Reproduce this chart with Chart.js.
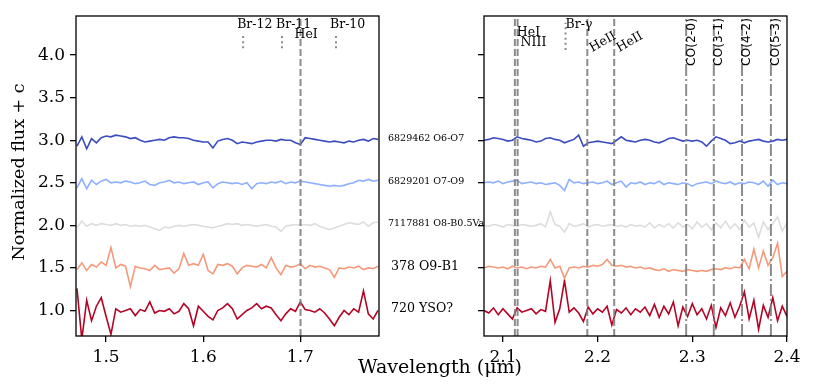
<!DOCTYPE html>
<html>
<head>
<meta charset="utf-8">
<script src="https://cdn.jsdelivr.net/npm/chart.js@4.4.1/dist/chart.umd.min.js"></script>
<style>
  html, body { margin: 0; background: #fff; }
  #wrap { position: relative; width: 813px; height: 391px; }
  #wrap canvas { position: absolute; left: 0; top: 0; }
</style>
</head>
<body>
<div id="wrap">
  <canvas id="hband" width="813" height="391"></canvas>
  <canvas id="kband" width="813" height="391"></canvas>
</div>
<script>
// sources, top to bottom
const SOURCES = ['6829462 O6-O7', '6829201 O7-O9', '7117881 O8-B0.5Va', '378 O9-B1', '720 YSO?'];
const OFFSETS = [2.0, 1.5, 1.0, 0.5, 0.0];
const COLORS = ['#3b4cc0', '#8db0fe', '#dddddd', '#f49a7b', '#b40426'];

const Y_TICKS = [1.0, 1.5, 2.0, 2.5, 3.0, 3.5, 4.0];
const X_TICKS_H = [1.5, 1.6, 1.7];
const X_TICKS_K = [2.1, 2.2, 2.3, 2.4];

// H band wavelength grid (um)
const WL_H = [
  1.470, 1.475, 1.480, 1.485, 1.490, 1.495, 1.500, 1.505, 1.510, 1.515,
  1.520, 1.525, 1.530, 1.535, 1.540, 1.545, 1.550, 1.555, 1.560, 1.565,
  1.570, 1.575, 1.580, 1.585, 1.590, 1.595, 1.600, 1.605, 1.610, 1.615,
  1.620, 1.625, 1.630, 1.635, 1.640, 1.645, 1.650, 1.655, 1.660, 1.665,
  1.670, 1.675, 1.680, 1.685, 1.690, 1.695, 1.700, 1.705, 1.710, 1.715,
  1.720, 1.725, 1.730, 1.735, 1.740, 1.745, 1.750, 1.755, 1.760, 1.765,
  1.770, 1.775, 1.780];

// K band wavelength grid (um)
const WL_K = [
  2.080, 2.085, 2.090, 2.095, 2.100, 2.105, 2.110, 2.115, 2.120, 2.125,
  2.130, 2.135, 2.140, 2.145, 2.150, 2.155, 2.160, 2.165, 2.170, 2.175,
  2.180, 2.185, 2.190, 2.195, 2.200, 2.205, 2.210, 2.215, 2.220, 2.225,
  2.230, 2.235, 2.240, 2.245, 2.250, 2.255, 2.260, 2.265, 2.270, 2.275,
  2.280, 2.285, 2.290, 2.295, 2.300, 2.305, 2.310, 2.315, 2.320, 2.325,
  2.330, 2.335, 2.340, 2.345, 2.350, 2.355, 2.360, 2.365, 2.370, 2.375,
  2.380, 2.385, 2.390, 2.395, 2.400];

// normalized flux, H band
const H_6829462 = [
  0.93, 1.04, 0.90, 1.02, 0.97, 1.03, 1.05, 1.04, 1.06, 1.05,
  1.04, 1.02, 1.03, 1.00, 0.98, 0.99, 1.00, 1.01, 1.00, 1.03,
  1.04, 1.03, 1.03, 1.02, 1.00, 0.99, 0.98, 0.98, 0.91, 0.99,
  1.01, 1.02, 1.00, 0.96, 0.98, 0.97, 0.96, 0.98, 0.99, 1.00,
  1.00, 0.99, 1.01, 1.00, 1.00, 0.97, 0.95, 1.03, 1.02, 1.01,
  1.00, 0.99, 0.98, 0.99, 0.98, 0.97, 0.99, 0.98, 1.00, 1.01,
  0.99, 1.02, 1.01];
const H_6829201 = [
  0.94, 1.05, 0.93, 1.03, 0.98, 1.02, 1.04, 1.00, 1.01, 1.00,
  1.02, 1.01, 0.99, 1.00, 1.02, 0.98, 0.97, 1.00, 1.01, 1.03,
  1.00, 1.01, 0.99, 1.00, 1.01, 0.98, 1.00, 1.01, 0.94, 0.99,
  1.01, 1.00, 0.99, 1.00, 0.98, 1.00, 0.93, 0.99, 1.00, 0.99,
  1.01, 1.00, 1.02, 0.99, 1.01, 1.00, 1.02, 1.01, 1.00, 0.99,
  0.98, 0.97, 0.96, 0.97, 0.96, 0.97, 0.99, 1.00, 1.03, 1.02,
  1.04, 1.02, 1.03];
const H_7117881 = [
  0.97, 1.05, 0.99, 1.02, 1.00, 1.02, 1.01, 1.00, 1.02, 1.00,
  1.01, 0.99, 1.00, 0.99, 1.00, 0.98, 0.96, 0.94, 0.98, 0.97,
  0.99, 1.00, 0.99, 1.00, 1.01, 1.00, 0.99, 0.98, 0.97, 0.99,
  1.00, 1.02, 1.01, 1.02, 1.00, 1.01, 1.00, 0.99, 1.00, 1.01,
  0.99, 0.98, 0.93, 0.99, 1.00, 1.01, 1.00, 1.01, 1.00, 1.02,
  0.99, 0.97, 0.95, 0.97, 0.99, 1.01, 1.03, 1.02, 1.01, 1.04,
  0.99, 1.03, 1.04];
const H_378 = [
  0.98, 1.06, 0.97, 1.04, 1.01, 1.07, 1.03, 1.24, 1.00, 1.04,
  1.02, 0.78, 1.02, 1.00, 0.99, 0.97, 1.03, 0.98, 0.99, 1.00,
  0.94, 0.99, 1.17, 1.03, 1.05, 1.03, 1.16, 0.97, 0.93, 1.04,
  1.03, 1.05, 1.02, 0.93, 1.00, 1.03, 1.02, 1.01, 1.04, 1.00,
  1.12, 1.00, 0.92, 1.03, 1.01, 1.02, 1.05, 0.99, 1.03, 1.01,
  1.02, 1.00, 0.98, 0.89, 1.00, 0.99, 1.01, 1.00, 1.02, 0.98,
  1.00, 0.99, 1.02];
const H_720 = [
  1.26, 0.66, 1.12, 0.88, 1.05, 1.15, 0.93, 0.72, 1.02, 0.98,
  1.00, 1.02, 0.94, 1.01, 0.99, 1.10, 0.97, 1.00, 0.99, 1.02,
  0.96, 0.99, 1.08, 1.02, 0.82, 1.05, 0.99, 0.93, 0.89, 1.00,
  1.03, 1.08, 1.02, 0.90, 0.95, 1.00, 1.03, 1.08, 1.02, 1.05,
  1.03, 0.95, 0.88, 0.96, 1.02, 0.99, 1.10, 1.01, 1.00, 0.98,
  1.02, 0.97, 0.90, 0.82, 0.92, 1.00, 0.95, 1.02, 0.98, 1.23,
  0.96, 0.90, 1.00];

// normalized flux, K band
const K_6829462 = [
  1.00, 1.01, 1.03, 1.02, 1.01, 0.99, 1.00, 1.04, 1.02, 1.01,
  1.00, 0.98, 0.99, 1.02, 1.03, 1.01, 1.00, 0.97, 0.99, 1.01,
  1.06, 0.93, 0.97, 0.98, 0.99, 0.98, 0.97, 0.96, 1.00, 1.04,
  1.00, 0.99, 0.98, 1.00, 1.01, 1.00, 0.98, 0.97, 0.99, 1.02,
  1.03, 1.01, 0.99, 1.00, 0.99, 1.00, 0.98, 0.93, 0.99, 1.04,
  1.02, 1.00, 0.96, 0.97, 0.99, 0.97, 0.99, 1.00, 1.01, 0.99,
  0.98, 0.99, 1.01, 1.00, 1.01];
const K_6829201 = [
  1.00, 1.01, 1.00, 1.02, 0.99, 1.01, 1.02, 1.03, 0.99, 1.00,
  1.01, 0.99, 1.00, 0.98, 0.99, 1.00, 0.97, 0.91, 1.04, 1.00,
  1.01, 0.99, 1.00, 1.01, 0.99, 1.00, 1.02, 0.98, 1.00, 1.02,
  0.95, 1.00, 0.99, 1.01, 0.98, 1.00, 0.99, 1.02, 0.98, 1.00,
  0.99, 0.98, 1.00, 0.99, 0.96, 0.99, 1.00, 1.01, 0.99, 1.02,
  1.00, 0.99, 1.01, 0.98, 1.00, 0.99, 1.01, 1.00, 0.98, 1.02,
  0.96, 1.03, 0.98, 1.00, 0.99];
const K_7117881 = [
  1.00, 0.99, 1.01, 1.00, 0.98, 1.01, 1.00, 0.99, 1.01, 1.00,
  0.99, 1.00, 1.02, 0.98, 1.16, 1.01, 0.99, 0.92, 1.02, 0.99,
  1.00, 1.02, 0.98, 1.00, 1.01, 0.99, 1.00, 1.01, 0.99, 1.00,
  0.98, 1.01, 0.99, 1.00, 0.98, 1.03, 0.97, 1.01, 0.98, 1.02,
  0.97, 1.03, 0.98, 1.01, 0.96, 1.04, 0.98, 1.02, 0.95, 1.03,
  0.97, 1.05, 0.96, 1.02, 0.95, 1.06, 0.98, 1.03, 0.86, 1.04,
  0.95, 1.02, 1.10, 0.93, 1.03];
const K_378 = [
  1.00, 1.02, 1.01, 1.00, 1.01, 0.99, 1.02, 1.00, 1.01, 0.99,
  1.01, 1.00, 1.02, 1.01, 1.10, 1.00, 1.02, 0.88, 1.00, 1.01,
  1.00, 1.02, 1.01, 1.03, 1.02, 1.04, 1.10, 1.03, 1.02, 1.03,
  1.01, 1.02, 1.00, 1.01, 0.99, 1.00, 0.98, 0.97, 0.99, 0.96,
  0.98, 0.97, 0.96, 0.98, 0.97, 0.96, 0.97, 0.96, 0.98, 0.99,
  0.98, 1.00, 0.99, 1.01, 1.00, 1.10, 0.99, 1.22, 1.00, 1.20,
  1.03, 1.12, 1.29, 0.90, 0.96];
const K_720 = [
  1.00, 0.97, 1.03, 0.95, 1.02, 0.96, 0.90, 1.03, 0.98, 1.00,
  1.02, 0.96, 1.01, 0.99, 1.35, 0.86, 1.02, 1.35, 0.98, 1.03,
  0.97, 0.87, 1.04, 0.96, 1.02, 0.98, 1.05, 0.83, 1.01, 0.97,
  1.03, 0.95, 1.02, 0.98, 1.04, 0.94, 1.07, 0.92, 1.05, 0.96,
  1.10, 0.82, 1.04, 0.93, 1.08, 0.95, 1.02, 0.90, 1.06, 0.80,
  1.03, 0.94, 1.09, 0.92, 1.05, 1.22, 0.90, 1.12, 0.78, 1.06,
  0.92, 1.15, 0.88, 1.05, 0.93];

const H_FLUX = [H_6829462, H_6829201, H_7117881, H_378, H_720];
const K_FLUX = [K_6829462, K_6829201, K_7117881, K_378, K_720];

// line identifications (um)
const H_BR = [1.6411, 1.6811, 1.7367];
const H_BR_NAMES = ['Br-12', 'Br-11', 'Br-10'];
const H_HEI = 1.7002;
const K_HEI = 2.1126;
const K_NIII = 2.1155;
const K_BRG = 2.1661;
const K_HEII = [2.1891, 2.2175];
const K_CO = [2.2935, 2.3227, 2.3525, 2.3830];
const K_CO_NAMES = ['CO(2-0)', 'CO(3-1)', 'CO(4-2)', 'CO(5-3)'];

const Y_MIN = 0.70, Y_MAX = 4.46;
const SERIF = "'DejaVu Serif', serif";
const SANS = "'DejaVu Sans', sans-serif";
const MARK = 'rgba(128,128,128,0.9)';
const DASH = [7, 3], DOT = [2, 3.2], DASHDOT = [12, 3, 2, 3];

function spectrum(wl, flux, k) {
  return {
    data: wl.map((w, i) => ({ x: w, y: flux[i] + OFFSETS[k] })),
    borderColor: COLORS[k], borderWidth: 1.6, pointRadius: 0, order: 1,
  };
}
function vline(x, y0, y1, dash) {
  return {
    data: [{ x, y: y0 }, { x, y: y1 }],
    borderColor: MARK, borderWidth: 2, borderDash: dash, pointRadius: 0, order: 0,
  };
}

function scaleOpts(xmin, xmax, xticks, yWidth, yLabels) {
  const tickGrid = { drawOnChartArea: false, drawTicks: true, tickLength: 6, color: '#000', lineWidth: 1.3 };
  return {
    x: {
      type: 'linear', min: xmin, max: xmax,
      afterBuildTicks: s => { s.ticks = xticks.map(v => ({ value: v })); },
      afterFit: s => { s.height = 55; },
      ticks: { color: '#000', font: { family: SERIF, size: 17 }, padding: 5, maxRotation: 0, callback: v => v.toFixed(1) },
      grid: tickGrid, border: { display: false },
    },
    y: {
      type: 'linear', min: Y_MIN, max: Y_MAX,
      afterBuildTicks: s => { s.ticks = Y_TICKS.map(v => ({ value: v })); },
      afterFit: s => { s.width = yWidth; },
      ticks: { display: yLabels, color: '#000', font: { family: SERIF, size: 17 }, padding: 5, callback: v => v.toFixed(1) },
      grid: tickGrid, border: { display: false },
    },
  };
}

const frame = {
  id: 'frame',
  afterDraw(chart) {
    const { ctx, chartArea: a } = chart;
    ctx.save();
    ctx.strokeStyle = '#000';
    ctx.lineWidth = 1.3;
    ctx.strokeRect(a.left, a.top, a.right - a.left, a.bottom - a.top);
    ctx.restore();
  },
};

const hText = {
  id: 'hText',
  afterDraw(chart) {
    const { ctx, chartArea: a, scales: { x } } = chart;
    ctx.save();
    ctx.fillStyle = '#000';
    ctx.font = '12.5px ' + SERIF;
    ctx.textAlign = 'left';
    ctx.textBaseline = 'middle';
    H_BR_NAMES.forEach((n, i) => ctx.fillText(n, x.getPixelForValue(H_BR[i]) - 6, a.top + 9));
    ctx.fillText('HeI', x.getPixelForValue(H_HEI) - 6, a.top + 19);
    ctx.font = '19px ' + SERIF;
    ctx.textAlign = 'center';
    ctx.fillText('Wavelength (μm)', 440, 368);
    ctx.font = '17.5px ' + SERIF;
    ctx.translate(19, 172);
    ctx.rotate(-Math.PI / 2);
    ctx.fillText('Normalized flux + c', 0, 0);
    ctx.restore();
  },
};

const kText = {
  id: 'kText',
  afterDraw(chart) {
    const { ctx, chartArea: a, scales: { x, y } } = chart;
    ctx.save();
    ctx.fillStyle = '#000';
    ctx.textAlign = 'left';
    ctx.textBaseline = 'middle';
    // source names next to the panel
    SOURCES.forEach((s, k) => {
      const big = k >= 3;
      ctx.font = (big ? '12.6px ' : '9.5px ') + SERIF;
      ctx.fillText(s, big ? 391 : 388, y.getPixelForValue(OFFSETS[k] + 1) - 1.5);
    });
    ctx.font = '12.5px ' + SERIF;
    ctx.fillText('HeI', x.getPixelForValue(K_HEI) + 2, a.top + 17);
    ctx.fillText('NIII', x.getPixelForValue(K_NIII) + 3, a.top + 27);
    ctx.fillText('Br-γ', x.getPixelForValue(K_BRG), a.top + 9);
    ctx.textBaseline = 'alphabetic';
    K_HEII.forEach(w => {
      ctx.save();
      ctx.translate(x.getPixelForValue(w) + 5, a.top + 36);
      ctx.rotate(-Math.PI / 6);
      ctx.fillText('HeII', 0, 0);
      ctx.restore();
    });
    ctx.font = '12.3px ' + SANS;
    ctx.textBaseline = 'top';
    K_CO.forEach((w, i) => {
      ctx.save();
      ctx.translate(x.getPixelForValue(w) - 1, a.top + 50);
      ctx.rotate(-Math.PI / 2);
      ctx.fillText(K_CO_NAMES[i], 0, 0);
      ctx.restore();
    });
    ctx.restore();
  },
};

const baseOpts = {
  responsive: false, animation: false, devicePixelRatio: 1, events: [],
  plugins: { legend: { display: false }, tooltip: { enabled: false } },
};

new Chart(document.getElementById('hband'), {
  type: 'line',
  data: {
    datasets: [
      vline(H_HEI, Y_MIN, Y_MAX, DASH),
      ...H_BR.map(w => vline(w, 4.08, 4.26, DOT)),
      ...H_FLUX.map((f, k) => spectrum(WL_H, f, k)),
    ],
  },
  options: {
    ...baseOpts,
    layout: { padding: { left: 0, top: 16, right: 434, bottom: 0 } },
    scales: scaleOpts(1.469, 1.781, X_TICKS_H, 76, true),
  },
  plugins: [frame, hText],
});

new Chart(document.getElementById('kband'), {
  type: 'line',
  data: {
    datasets: [
      vline(K_HEI, Y_MIN, Y_MAX, DASH),
      vline(K_NIII, Y_MIN, Y_MAX, DASH),
      vline(K_BRG, 4.06, 4.38, DOT),
      ...K_HEII.map(w => vline(w, Y_MIN, Y_MAX, DASH)),
      ...K_CO.map(w => vline(w, Y_MIN, Y_MAX, DASHDOT)),
      ...K_FLUX.map((f, k) => spectrum(WL_K, f, k)),
    ],
  },
  options: {
    ...baseOpts,
    layout: { padding: { left: 380, top: 16, right: 26, bottom: 0 } },
    scales: scaleOpts(2.08, 2.40, X_TICKS_K, 104, false),
  },
  plugins: [frame, kText],
});
</script>
</body>
</html>
